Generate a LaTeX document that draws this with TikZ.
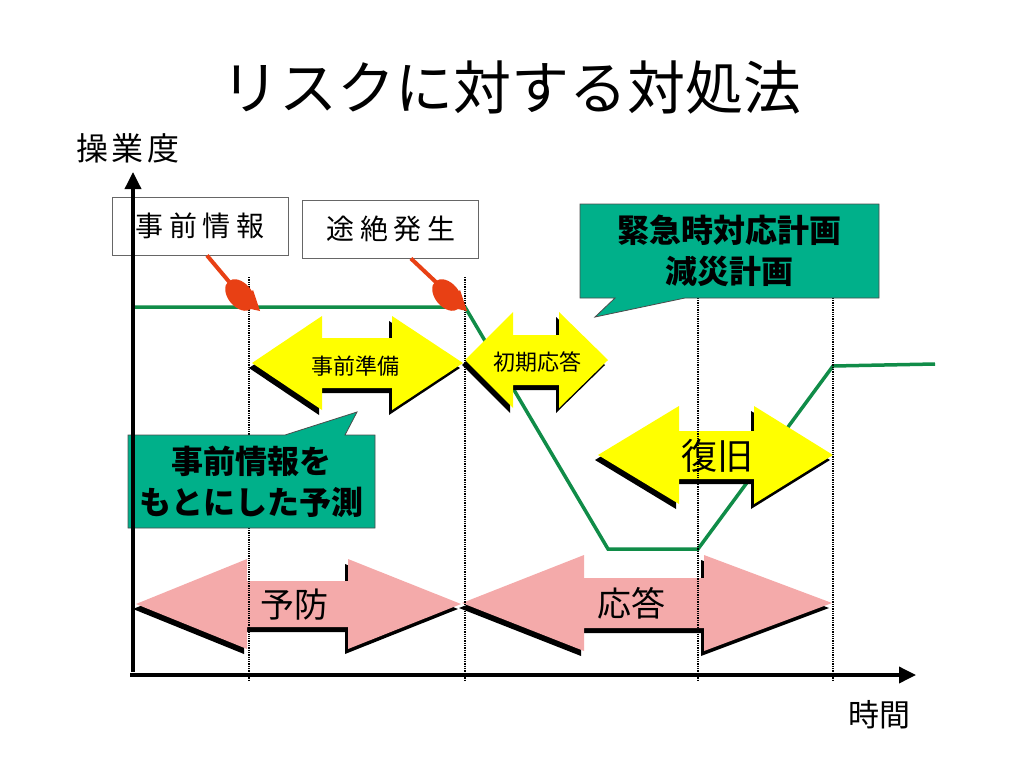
\documentclass[tikz,border=0pt]{standalone}
\usepackage{fontspec}
\setmainfont{Noto Sans CJK JP}
\usetikzlibrary{arrows.meta, shapes.callouts, positioning}
\definecolor{opgreen}{RGB}{16,140,72}
\definecolor{calloutc}{RGB}{0,176,138}
\definecolor{arrowy}{RGB}{255,255,0}
\definecolor{arrowp}{RGB}{244,170,170}
\definecolor{handc}{RGB}{232,64,20}
\tikzset{
x=1pt, y=-1pt, % pixel units, y grows downwards
axis/.style={line width=3.5pt, -{Triangle[width=16pt,length=17pt]}},
guide/.style={densely dotted, line width=1.3pt}, % vertical time marks
opline/.style={opgreen, line width=3.5pt, line join=miter},
infobox/.style={draw=black!60, fill=white, line width=0.9pt, minimum width=176, minimum height=58, inner sep=0pt, font=\fontsize{28}{30}\selectfont\addfontfeature{LetterSpace=20}},
callout/.style={rectangle callout, draw=black!70, fill=calloutc, line width=0.8pt, inner sep=0pt, align=center, font=\bfseries\fontsize{32}{41}\selectfont},
arm/.style={handc, line width=4pt},
hand/.pic={
  \fill[handc] (-19,-15) circle [x radius=18, y radius=12, rotate=-50];
  \fill[handc] (-22,-4) -- (-6,-20) -- (1,1) -- cycle;
},
}
% outline of a double arrow: x1, left head, right head, x2, y, half shaft, half head
\newcommand{\arrowoutline}[7]{(#1,#5) -- (#2,#5-#7) -- (#2,#5-#6) -- (#3,#5-#6) -- (#3,#5-#7) -- (#4,#5) -- (#3,#5+#7) -- (#3,#5+#6) -- (#2,#5+#6) -- (#2,#5+#7) -- cycle}
\newcommand{\dblarrow}[9]{%
  \begin{scope}[shift={(-3,5)}]\fill[black] \arrowoutline{#2}{#3}{#4}{#5}{#6}{#7}{#8};\end{scope}
  \fill[#9] \arrowoutline{#2}{#3}{#4}{#5}{#6}{#7}{#8};
  \coordinate (#1) at ({(#2+#5)/2},#6);
}
\begin{document}
\begin{tikzpicture}
\useasboundingbox (0,0) rectangle (1024,768);
\node[font=\fontsize{58}{62}\selectfont] (title) at (511,88) {リスクに対する対処法};
% level of operation
\draw[opline] (133,307) -- (465,307) -- (608,549) -- (698,549) -- (833,366) -- (935,364);
% phases
\dblarrow{prep}{252}{322}{392}{463}{363}{25}{47}{arrowy}
\dblarrow{first}{465}{513}{559}{608}{360}{25}{48}{arrowy}
\dblarrow{recov}{598}{679}{754}{833}{455}{24}{49}{arrowy}
\dblarrow{prev}{136}{247}{348}{461}{604}{23}{45}{arrowp}
\dblarrow{resp}{462}{584}{704}{832}{603}{25}{48}{arrowp}
\node[font=\fontsize{22}{24}\selectfont] at ([shift={(-2,3)}]prep) {事前準備};
\node[font=\fontsize{22}{24}\selectfont] at ([shift={(1,2)}]first) {初期応答};
\node[font=\fontsize{36}{40}\selectfont] at ([shift={(2,1)}]recov) {復旧};
\node[font=\fontsize{34}{38}\selectfont] at ([shift={(-4,1)}]prev) {予防};
\node[font=\fontsize{34}{38}\selectfont] at ([shift={(-16,0)}]resp) {応答};
\foreach \x in {249,465,698,833}
  \draw[guide] (\x,277) -- (\x,680);
% callouts
\node[callout, minimum width=299, minimum height=94, callout absolute pointer={(595,317)}, callout pointer width=70] (plan) at (729.5,251) {緊急時対応計画\\減災計画};
\node[callout, minimum width=247, minimum height=93, callout absolute pointer={(357,412)}, callout pointer width=60] (guess) at (251.5,481.5) {事前情報を\\もとにした予測};
% events
\node[infobox] (info) at (200,226) {事前情報};
\node[infobox, right=14pt of info, yshift=-3pt] (cut) {途絶発生};
\coordinate (hit1) at (259,310);
\coordinate (hit2) at (466,310);
\draw[arm] ([xshift=7]info.south) -- ([shift={(-28,-26)}]hit1);
\draw[arm] ([xshift=20]cut.south) -- ([shift={(-28,-26)}]hit2);
\pic at (hit1) {hand};
\pic at (hit2) {hand};
% axes
\coordinate (o) at (133,675);
\draw[axis] ([yshift=3]o) -- (133,172);
\draw[axis] ([xshift=-3]o) -- (916,675);
\node[font=\fontsize{32}{34}\selectfont\addfontfeature{LetterSpace=12}] (ylab) at (128,148) {操業度};
\node[font=\fontsize{31}{34}\selectfont] (xlab) at (879,715) {時間};
\end{tikzpicture}
\end{document}
